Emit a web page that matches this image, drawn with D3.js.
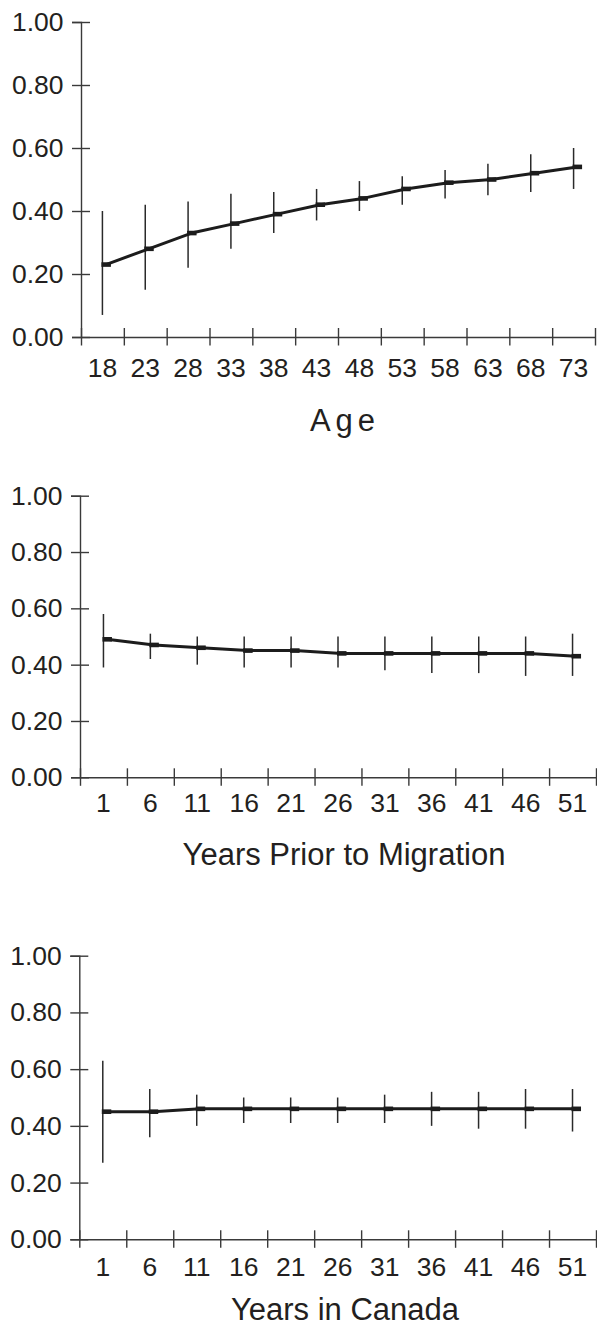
<!DOCTYPE html>
<html>
<head>
<meta charset="utf-8">
<script src="https://cdn.jsdelivr.net/npm/d3@7"></script>
<style>
  html, body { margin: 0; padding: 0; background: #fff; }
  svg { display: block; }
  text { font-family: "Liberation Sans", Arial, Helvetica, sans-serif; fill: #231f20; }
</style>
</head>
<body>
<svg id="chart" width="597" height="1327"></svg>
<script>
// ---------- data ----------
const yTicks = [0, 0.2, 0.4, 0.6, 0.8, 1.0];

const ageLabels = ["18","23","28","33","38","43","48","53","58","63","68","73"];
const ageMean   = [0.23,0.28,0.33,0.36,0.39,0.42,0.44,0.47,0.49,0.50,0.52,0.54];
const ageLow    = [0.07,0.15,0.22,0.28,0.33,0.37,0.40,0.42,0.44,0.45,0.46,0.47];
const ageHigh   = [0.40,0.42,0.43,0.455,0.46,0.47,0.495,0.51,0.53,0.55,0.58,0.60];

const yearLabels = ["1","6","11","16","21","26","31","36","41","46","51"];

const priorMean = [0.49,0.47,0.46,0.45,0.45,0.44,0.44,0.44,0.44,0.44,0.43];
const priorLow  = [0.39,0.42,0.40,0.39,0.39,0.39,0.38,0.37,0.37,0.36,0.36];
const priorHigh = [0.58,0.51,0.50,0.50,0.50,0.50,0.50,0.50,0.50,0.50,0.51];

const canadaMean = [0.45,0.45,0.46,0.46,0.46,0.46,0.46,0.46,0.46,0.46,0.46];
const canadaLow  = [0.27,0.36,0.40,0.41,0.41,0.41,0.41,0.40,0.39,0.39,0.38];
const canadaHigh = [0.63,0.53,0.51,0.50,0.50,0.50,0.51,0.52,0.52,0.53,0.53];

const panels = [
  { labels: ageLabels, mean: ageMean, low: ageLow, high: ageHigh, title: "Age",
    x0: 81, x1: 595, yZero: 337, yOne: 22, labelDy: 40, titleY: 431, titleX: 345, spacing: 5 },
  { labels: yearLabels, mean: priorMean, low: priorLow, high: priorHigh, title: "Years Prior to Migration",
    x0: 80, x1: 596, yZero: 777.3, yOne: 495.7, labelDy: 35, titleY: 865, titleX: 344, spacing: 0 },
  { labels: yearLabels, mean: canadaMean, low: canadaLow, high: canadaHigh, title: "Years in Canada",
    x0: 79.3, x1: 596, yZero: 1239.3, yOne: 955.7, labelDy: 37, titleY: 1320, titleX: 345, spacing: 0 }
];

// ---------- drawing ----------
const svg = d3.select("#chart");
const AXIS = "#3a3a3a", INK = "#1c1c1c";
const TICK_FONT = 26.5;

panels.forEach(p => {
  const g = svg.append("g");
  const n = p.labels.length;
  const xb = d3.scaleBand().domain(p.labels).range([p.x0, p.x1]).padding(0);
  const xEdge = d3.scaleLinear().domain([0, n]).range([p.x0, p.x1]);
  const y = d3.scaleLinear().domain([0, 1]).range([p.yZero, p.yOne]);
  const cx = d => xb(d) + xb.bandwidth() / 2;

  // y axis
  const ya = g.append("g").attr("transform", `translate(${p.x0},0)`)
    .call(d3.axisLeft(y).tickValues(yTicks).tickFormat(d3.format(".2f")).tickSize(9).tickPadding(8.5));
  ya.select(".domain").attr("stroke", AXIS).attr("stroke-width", 1.4);
  ya.selectAll(".tick line").attr("x1", 9).attr("x2", -9).attr("stroke", AXIS).attr("stroke-width", 1.4);
  ya.selectAll(".tick text").attr("font-size", TICK_FONT).attr("fill", "#231f20")
    .attr("font-family", "Liberation Sans, Arial, sans-serif");

  // x axis: boundary ticks crossing the line
  const xa = g.append("g").attr("transform", `translate(0,${p.yZero})`)
    .call(d3.axisBottom(xEdge).tickValues(d3.range(0, n + 1)).tickFormat("").tickSize(9).tickSizeOuter(0));
  xa.select(".domain").attr("stroke", AXIS).attr("stroke-width", 1.4);
  xa.selectAll(".tick line").attr("y1", -9).attr("y2", 8.5).attr("stroke", AXIS).attr("stroke-width", 1.4);

  // x labels at band centers
  const xl = g.append("g").attr("transform", `translate(0,${p.yZero})`)
    .call(d3.axisBottom(xb).tickSize(0).tickPadding(0));
  xl.select(".domain").remove();
  xl.selectAll(".tick text").attr("font-size", TICK_FONT).attr("fill", "#231f20")
    .attr("font-family", "Liberation Sans, Arial, sans-serif")
    .attr("dy", null).attr("y", p.labelDy).attr("dominant-baseline", "alphabetic");

  // title
  g.append("text").attr("x", p.titleX).attr("y", p.titleY).attr("text-anchor", "middle")
    .attr("font-size", 31).attr("letter-spacing", p.spacing).text(p.title);

  const data = p.labels.map((l, i) => ({ l, m: p.mean[i], lo: p.low[i], hi: p.high[i] }));

  // error bars
  g.selectAll(".err").data(data).enter().append("line")
    .attr("x1", d => cx(d.l)).attr("x2", d => cx(d.l))
    .attr("y1", d => y(d.lo)).attr("y2", d => y(d.hi))
    .attr("stroke", "#2a2a2a").attr("stroke-width", 1.5);

  // mean line
  const line = d3.line().x(d => cx(d.l) + 3.5).y(d => y(d.m));
  g.append("path").datum(data).attr("d", line)
    .attr("fill", "none").attr("stroke", INK).attr("stroke-width", 3).attr("stroke-linejoin", "round");

  // markers
  g.selectAll(".mk").data(data).enter().append("rect")
    .attr("x", d => cx(d.l) - 1).attr("y", d => y(d.m) - 2.3)
    .attr("width", 9.5).attr("height", 4.6).attr("fill", INK);
});
</script>
</body>
</html>
